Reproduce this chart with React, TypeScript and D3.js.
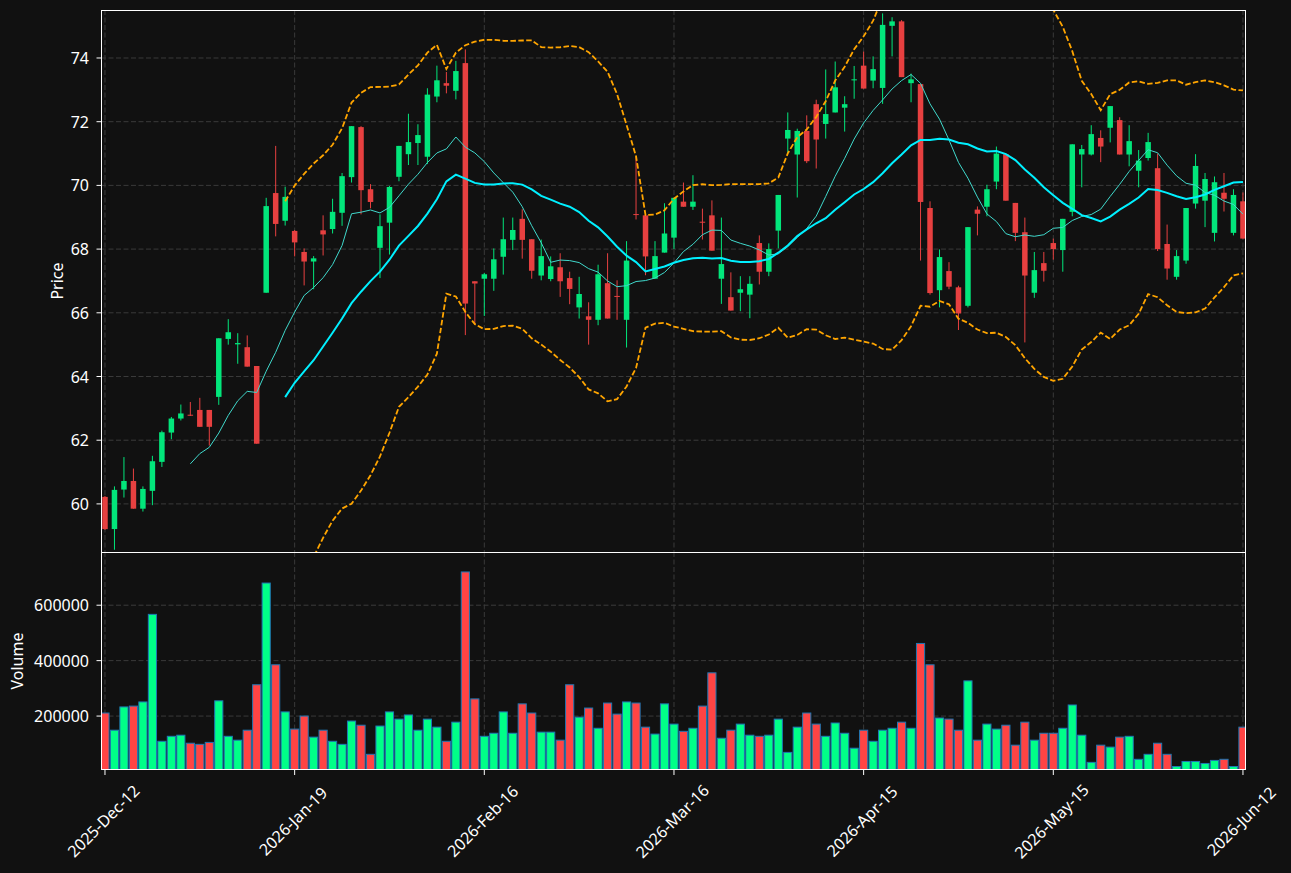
import React from 'react';
import * as d3 from 'd3';

const tickLabels = ['2025-Dec-12', '2026-Jan-19', '2026-Feb-16', '2026-Mar-16', '2026-Apr-15', '2026-May-15', '2026-Jun-12'];
const tickIdx = [0, 20, 40, 60, 80, 100, 120];
const priceTicks = [60, 62, 64, 66, 68, 70, 72, 74];
const volumeTicks = [200000, 400000, 600000];

const opens = [
  60.22, 59.21, 60.45, 60.72, 59.85, 60.41, 61.32, 62.24, 62.68, 62.80,
  62.95, 62.95, 63.36, 65.18, 65.01, 64.92, 64.33, 66.63, 69.76, 68.89,
  68.57, 67.91, 67.61, 68.59, 68.63, 69.14, 70.26, 71.83, 69.88, 68.04,
  68.83, 70.27, 70.98, 71.33, 70.90, 72.79, 73.21, 72.97, 73.84, 66.99,
  67.07, 67.07, 67.76, 68.29, 68.95, 68.31, 67.17, 67.06, 67.43, 67.09,
  66.17, 65.89, 65.78, 66.93, 66.53, 65.78, 69.10, 69.06, 67.07, 67.89,
  68.36, 69.49, 69.33, 68.86, 69.06, 67.07, 66.49, 66.63, 66.57, 68.19,
  67.29, 68.58, 71.47, 70.97, 71.71, 72.55, 71.93, 72.29, 72.44, 73.30,
  73.76, 73.29, 73.06, 75.01, 75.15, 73.21, 73.18, 69.29, 66.71, 67.31,
  66.80, 66.22, 69.24, 69.33, 70.12, 70.98, 69.45, 68.53, 66.63, 67.56,
  68.19, 67.97, 69.17, 70.97, 70.97, 71.49, 71.81, 72.05, 70.97, 70.46,
  70.86, 70.54, 68.16, 67.13, 67.64, 69.43, 69.52, 68.51, 69.77, 68.51,
  69.50,
];
const highs = [
  60.25, 60.55, 61.47, 61.11, 60.55, 61.51, 62.30, 62.73, 63.12, 63.20,
  63.33, 62.95, 65.20, 65.80, 65.36, 65.29, 64.33, 69.61, 71.24, 69.96,
  68.60, 68.02, 67.78, 69.06, 69.58, 70.39, 71.86, 71.86, 70.04, 69.09,
  69.98, 71.24, 72.25, 71.92, 73.05, 73.76, 73.56, 73.91, 74.27, 66.99,
  67.25, 68.02, 68.99, 68.99, 69.25, 68.31, 68.30, 67.77, 67.87, 67.29,
  67.13, 66.33, 67.51, 67.87, 67.02, 68.25, 70.89, 69.06, 68.25, 69.44,
  69.61, 70.09, 70.32, 69.27, 69.53, 68.99, 67.27, 67.15, 67.15, 68.43,
  68.18, 69.70, 72.29, 71.78, 72.20, 72.69, 73.64, 73.89, 72.80, 73.75,
  74.20, 74.05, 75.40, 75.28, 75.19, 73.51, 73.18, 69.50, 67.99, 67.59,
  66.85, 68.69, 69.34, 70.02, 71.22, 70.98, 69.45, 68.99, 67.91, 67.91,
  68.33, 68.95, 71.29, 71.27, 71.89, 71.73, 72.49, 72.14, 71.89, 71.11,
  71.65, 71.00, 68.77, 67.97, 69.29, 70.98, 70.39, 70.28, 70.39, 69.88,
  69.78,
];
const lows = [
  59.18, 58.56, 60.20, 59.85, 59.76, 59.96, 61.16, 62.03, 62.62, 62.76,
  62.42, 61.83, 63.11, 65.00, 64.40, 64.31, 61.89, 66.63, 68.40, 68.74,
  67.77, 66.86, 66.74, 67.80, 68.49, 68.73, 70.09, 69.09, 69.28, 67.09,
  67.83, 70.13, 70.64, 70.64, 70.67, 72.61, 72.89, 72.70, 65.30, 65.62,
  65.90, 66.69, 67.20, 67.97, 67.70, 67.07, 67.02, 66.99, 66.50, 66.27,
  65.82, 65.00, 65.61, 65.82, 65.78, 64.91, 68.93, 67.18, 67.07, 67.89,
  68.00, 69.33, 69.23, 68.30, 67.95, 66.28, 66.07, 66.05, 65.83, 66.89,
  67.15, 68.02, 71.00, 69.62, 70.70, 70.53, 71.47, 72.29, 71.69, 72.72,
  73.04, 73.05, 72.56, 74.05, 73.40, 72.61, 67.64, 66.57, 66.17, 66.74,
  65.46, 66.17, 68.43, 69.03, 69.88, 69.52, 68.25, 65.07, 66.47, 66.98,
  67.67, 67.29, 69.03, 69.94, 70.94, 70.73, 71.35, 70.97, 70.60, 69.94,
  70.78, 67.94, 67.04, 67.04, 67.54, 69.27, 68.69, 68.24, 69.18, 68.43,
  68.33,
];
const closes = [
  59.21, 60.44, 60.72, 59.85, 60.47, 61.34, 62.25, 62.68, 62.84, 62.78,
  62.42, 62.42, 65.20, 65.39, 65.05, 64.31, 61.89, 69.35, 68.79, 69.64,
  68.21, 67.61, 67.71, 68.46, 69.17, 70.29, 71.86, 69.85, 69.48, 68.72,
  69.95, 71.24, 71.36, 71.58, 72.85, 73.30, 73.13, 73.59, 66.29, 66.92,
  67.21, 67.68, 68.31, 68.60, 68.29, 67.32, 67.78, 67.46, 66.99, 66.75,
  66.59, 65.78, 67.21, 65.82, 66.50, 67.64, 69.08, 67.77, 67.78, 68.49,
  69.61, 69.33, 69.49, 68.83, 67.95, 67.53, 66.07, 66.74, 66.91, 67.29,
  68.00, 69.70, 71.74, 71.71, 70.76, 71.44, 72.24, 73.08, 72.55, 73.33,
  73.04, 73.65, 75.04, 75.15, 73.40, 73.33, 69.48, 66.62, 67.75, 66.82,
  65.98, 68.69, 69.11, 69.88, 71.00, 69.52, 68.51, 67.17, 67.34, 67.32,
  68.00, 68.95, 71.29, 71.14, 71.61, 71.22, 72.49, 70.97, 71.39, 70.78,
  71.36, 68.00, 67.39, 67.78, 69.29, 70.61, 70.20, 70.10, 69.58, 69.70,
  68.33,
];
const volumes = [
  211000, 149000, 233000, 236000, 251000, 567000, 109000, 127000, 131000, 102000,
  98000, 105000, 255000, 127000, 113000, 149000, 313000, 680000, 385000, 215000,
  153000, 200000, 124000, 149000, 109000, 98000, 182000, 167000, 62000, 164000,
  215000, 189000, 204000, 149000, 189000, 160000, 109000, 178000, 720000, 262000,
  127000, 138000, 215000, 138000, 244000, 211000, 142000, 142000, 113000, 313000,
  196000, 229000, 156000, 247000, 207000, 251000, 247000, 160000, 135000, 244000,
  171000, 145000, 156000, 236000, 356000, 120000, 149000, 171000, 131000, 127000,
  131000, 189000, 69000, 160000, 211000, 171000, 127000, 175000, 138000, 84000,
  149000, 109000, 149000, 156000, 178000, 156000, 462000, 385000, 193000, 189000,
  149000, 327000, 113000, 171000, 153000, 167000, 95000, 178000, 113000, 138000,
  138000, 156000, 240000, 131000, 33000, 95000, 88000, 124000, 127000, 44000,
  62000, 102000, 62000, 18000, 36000, 36000, 29000, 40000, 44000, 18000,
  160000,
];

const W = 1291;
const H = 873;
const L = 101;
const R = 1246;
const PT = 10;
const PB = 552;
const VB = 770;
const BG = '#111111';
const GRID = '#3a3a3a';
const UP = '#02e67b';
const DOWN = '#e74040';
const VUP = '#00ff88';
const VDOWN = '#ff4444';
const FONT = '"Noto Sans", "Open Sans", sans-serif';

function rolling(vals: number[], n: number, fn: (a: number[]) => number | undefined) {
  return vals.map((_, i) => (i < n - 1 ? null : (fn(vals.slice(i - n + 1, i + 1)) as number)));
}

export default function App() {
  const x = d3.scaleLinear().domain([-0.42, 120.32]).range([L, R]);
  const step = x(1) - x(0);
  const y = d3.scaleLinear().domain([58.49, 75.507]).range([PB, PT]);
  const vMin = 0.3 * (d3.min(volumes) as number);
  const vMax = 1.1 * (d3.max(volumes) as number);
  const yv = d3.scaleLinear().domain([vMin, vMax]).range([VB, PB]);

  const ma10 = rolling(closes, 10, d3.mean);
  const ma20 = rolling(closes, 20, d3.mean);
  const sd20 = rolling(closes, 20, d3.deviation);
  const upper = ma20.map((m, i) => (m == null ? null : m + 2 * (sd20[i] as number)));
  const lower = ma20.map((m, i) => (m == null ? null : m - 2 * (sd20[i] as number)));

  const line = d3
    .line<number | null>()
    .defined((d) => d != null)
    .x((_, i) => x(i))
    .y((d) => y(d as number));

  const bodyW = step * 0.58;
  const volW = step * 0.86;

  return (
    <div style={{ position: 'fixed', left: 0, top: 0, width: W, height: H, background: BG }}>
      <svg width={W} height={H} style={{ display: 'block', fontFamily: FONT }}>
        <defs>
          <clipPath id="priceClip">
            <rect x={L} y={PT} width={R - L} height={PB - PT} />
          </clipPath>
          <clipPath id="volClip">
            <rect x={L} y={PB} width={R - L} height={VB - PB} />
          </clipPath>
        </defs>
        <rect x={0} y={0} width={W} height={H} fill={BG} />

        {/* grid */}
        <g stroke={GRID} strokeWidth={1} strokeDasharray="5,2.5">
          {priceTicks.map((t) => (
            <line key={'pg' + t} x1={L} x2={R} y1={y(t)} y2={y(t)} />
          ))}
          {volumeTicks.map((t) => (
            <line key={'vg' + t} x1={L} x2={R} y1={yv(t)} y2={yv(t)} />
          ))}
          {tickIdx.map((t) => (
            <g key={'xg' + t}>
              <line x1={x(t)} x2={x(t)} y1={PT} y2={PB} />
              <line x1={x(t)} x2={x(t)} y1={PB} y2={VB} />
            </g>
          ))}
        </g>

        {/* candles */}
        <g clipPath="url(#priceClip)">
          {closes.map((c, i) => {
            const o = opens[i];
            const col = c >= o ? UP : DOWN;
            const top = y(Math.max(o, c));
            const bot = y(Math.min(o, c));
            return (
              <g key={'c' + i}>
                <line x1={x(i)} x2={x(i)} y1={y(highs[i])} y2={y(lows[i])} stroke={col} strokeWidth={1} />
                <rect x={x(i) - bodyW / 2} y={top} width={bodyW} height={Math.max(1, bot - top)} fill={col} />
              </g>
            );
          })}
          <path d={line(ma10) || ''} fill="none" stroke="#40d9cc" strokeWidth={1} />
          <path d={line(ma20) || ''} fill="none" stroke="#00f0ff" strokeWidth={2} />
          <path d={line(upper) || ''} fill="none" stroke="#ffa500" strokeWidth={1.8} strokeDasharray="5.5,2.4" />
          <path d={line(lower) || ''} fill="none" stroke="#ffa500" strokeWidth={1.8} strokeDasharray="5.5,2.4" />
        </g>

        {/* volume */}
        <g clipPath="url(#volClip)">
          {volumes.map((v, i) => (
            <rect
              key={'v' + i}
              x={x(i) - volW / 2}
              y={yv(v)}
              width={volW}
              height={VB - yv(v)}
              fill={closes[i] >= opens[i] ? VUP : VDOWN}
              stroke="#1f77b4"
              strokeWidth={1}
            />
          ))}
        </g>

        {/* frames */}
        <rect x={L + 0.5} y={PT + 0.5} width={R - L - 1} height={PB - PT} fill="none" stroke="#ffffff" strokeWidth={1} />
        <rect x={L + 0.5} y={PB + 0.5} width={R - L - 1} height={VB - PB - 1} fill="none" stroke="#ffffff" strokeWidth={1} />

        {/* y axes */}
        <g fill="#ffffff" fontSize={16}>
          {priceTicks.map((t) => (
            <g key={'pt' + t}>
              <line x1={L - 4.5} x2={L} y1={y(t)} y2={y(t)} stroke="#ffffff" />
              <text x={89} y={y(t)} textAnchor="end" dominantBaseline="central">
                {t}
              </text>
            </g>
          ))}
          {volumeTicks.map((t) => (
            <g key={'vt' + t}>
              <line x1={L - 4.5} x2={L} y1={yv(t)} y2={yv(t)} stroke="#ffffff" />
              <text x={89} y={yv(t)} textAnchor="end" dominantBaseline="central">
                {t}
              </text>
            </g>
          ))}
          <text transform={`translate(57,${(PT + PB) / 2}) rotate(-90)`} textAnchor="middle" dominantBaseline="central">
            Price
          </text>
          <text transform={`translate(16.5,${(PB + VB) / 2}) rotate(-90)`} textAnchor="middle" dominantBaseline="central">
            Volume
          </text>
        </g>

        {/* x axis */}
        <g fill="#ffffff" fontSize={16}>
          {tickIdx.map((t, k) => (
            <g key={'xt' + t}>
              <line x1={x(t)} x2={x(t)} y1={VB} y2={VB + 5} stroke="#ffffff" />
              <text
                transform={`translate(${x(t) - 1.7},${VB + 51}) rotate(-45)`}
                textAnchor="middle"
                dominantBaseline="central"
              >
                {tickLabels[k]}
              </text>
            </g>
          ))}
        </g>
      </svg>
    </div>
  );
}
